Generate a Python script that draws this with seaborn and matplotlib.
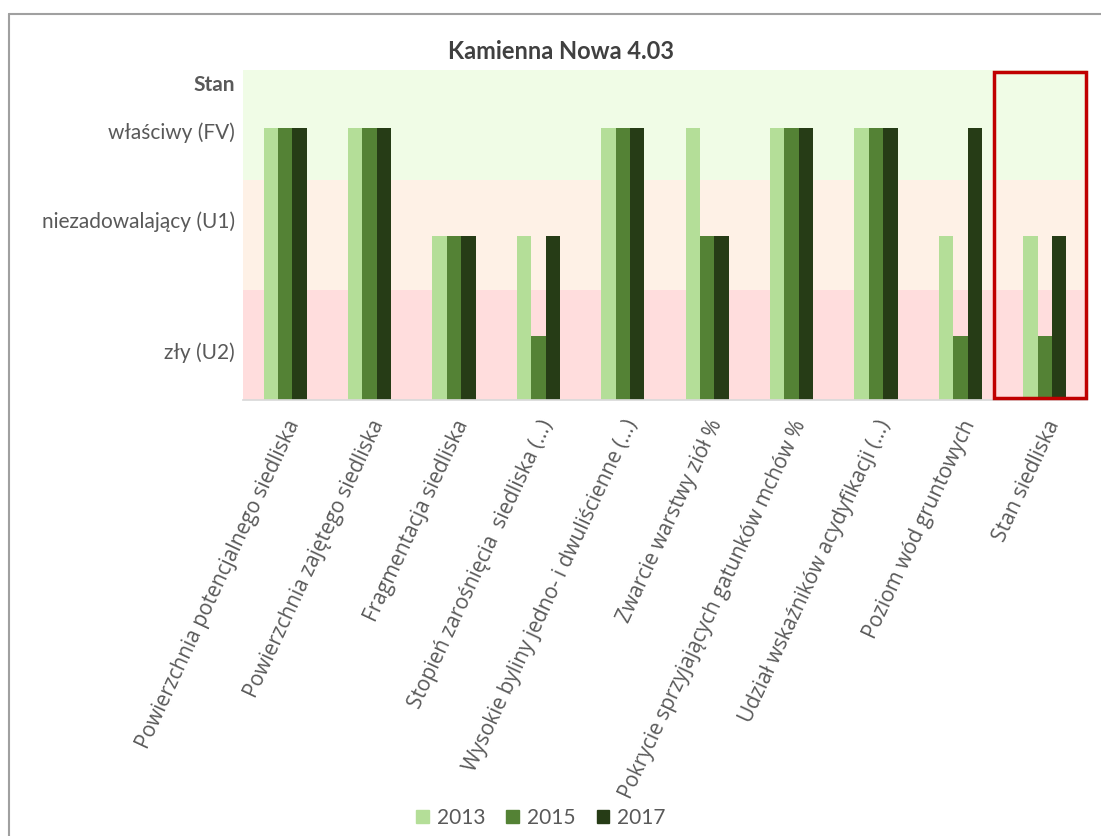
import matplotlib
matplotlib.use("Agg")
import matplotlib.pyplot as plt
import matplotlib.patches as mpatches
from matplotlib.lines import Line2D
import pandas as pd
import seaborn as sns

categories = [
    "Powierzchnia potencjalnego siedliska",
    "Powierzchnia zajętego siedliska",
    "Fragmentacja siedliska",
    "Stopień zarośnięcia  siedliska (…)",
    "Wysokie byliny jedno- i dwuliścienne (…)",
    "Zwarcie warstwy ziół %",
    "Pokrycie sprzyjających gatunków mchów %",
    "Udział wskaźników acydyfikacji (…)",
    "Poziom wód gruntowych",
    "Stan siedliska",
]
years = ["2013", "2015", "2017"]
status_2013 = ["FV", "FV", "U1", "U1", "FV", "FV", "FV", "FV", "U1", "U1"]
status_2015 = ["FV", "FV", "U1", "U2", "FV", "U1", "FV", "FV", "U2", "U2"]
status_2017 = ["FV", "FV", "U1", "U1", "FV", "U1", "FV", "FV", "FV", "U1"]
# bar height used for each status
status_height = {"FV": 2.47, "U1": 1.49, "U2": 0.58}
ytick_pos = [2.88, 2.45, 1.64, 0.45]
ytick_labels = ["Stan", "właściwy (FV)", "niezadowalający (U1)", "zły (U2)"]

colors = ["#B4DE98", "#548235", "#263C16"]
text_col = "#595959"

rows = []
for yr, st in zip(years, [status_2013, status_2015, status_2017]):
    for c, s in zip(categories, st):
        rows.append({"category": c, "year": yr, "value": status_height[s]})
df = pd.DataFrame(rows)

sns.set_theme(style="white")
plt.rcParams["font.family"] = ["Lato", "DejaVu Sans"]

fig = plt.figure(figsize=(11.01, 8.36), dpi=100)
ax = fig.add_axes([243 / 1101, 1 - 400 / 836, (1087 - 243) / 1101, 330 / 836])

# background status bands
ax.axhspan(0, 1, color="#FFDDDD", zorder=0, lw=0)
ax.axhspan(1, 2, color="#FEF1E6", zorder=0, lw=0)
ax.axhspan(2, 3, color="#F0FCE6", zorder=0, lw=0)

sns.barplot(data=df, x="category", y="value", hue="year", order=categories,
            hue_order=years, palette=colors, width=0.51, gap=0,
            saturation=1, linewidth=0, ax=ax, legend=False, zorder=2)

ax.set_ylim(0, 3)
ax.set_xlim(-0.5, len(categories) - 0.5)
ax.set_xlabel("")
ax.set_ylabel("")
for s in ["top", "right", "left"]:
    ax.spines[s].set_visible(False)
ax.spines["bottom"].set_color("#D9D9D9")
ax.tick_params(axis="both", length=0)

ax.set_yticks(ytick_pos)
ax.set_yticklabels(ytick_labels, fontsize=15, color=text_col)
ax.get_yticklabels()[0].set_fontweight("bold")
ax.tick_params(axis="y", pad=6)

ax.set_xticks(range(len(categories)))
ax.set_xticklabels(categories, rotation=65, ha="right", rotation_mode="anchor",
                   fontsize=15, color=text_col)
for t in ax.get_xticklabels():
    t.set_fontfamily(["Open Sans", "DejaVu Sans"])
ax.tick_params(axis="x", pad=12)

ax.set_title("Kamienna Nowa 4.03", fontsize=17, fontweight="bold",
             color="#404040", x=(561 - 243) / 844, pad=8)

# highlight of the last category
ax.add_patch(mpatches.Rectangle((8.4, 0.02), 1.09, 2.96, fill=False,
                                edgecolor="#C00000", lw=2.5, zorder=5,
                                clip_on=False))

handles = [mpatches.Patch(color=c, label=y) for c, y in zip(colors, years)]
fig.legend(handles=handles, loc="center", bbox_to_anchor=(541 / 1101, 1 - 818 / 836),
           ncol=3, frameon=False, fontsize=15, handlelength=0.6, handleheight=0.6,
           columnspacing=1.0, handletextpad=0.4, labelcolor=text_col)

# chart frame (only top and left visible in the crop)
fig.add_artist(Line2D([9 / 1101, 9 / 1101], [0, 1 - 14 / 836], color="#A0A0A0", lw=1.5))
fig.add_artist(Line2D([9 / 1101, 1], [1 - 14 / 836, 1 - 14 / 836], color="#A0A0A0", lw=1.5))

fig.savefig("out.png", dpi=100)
